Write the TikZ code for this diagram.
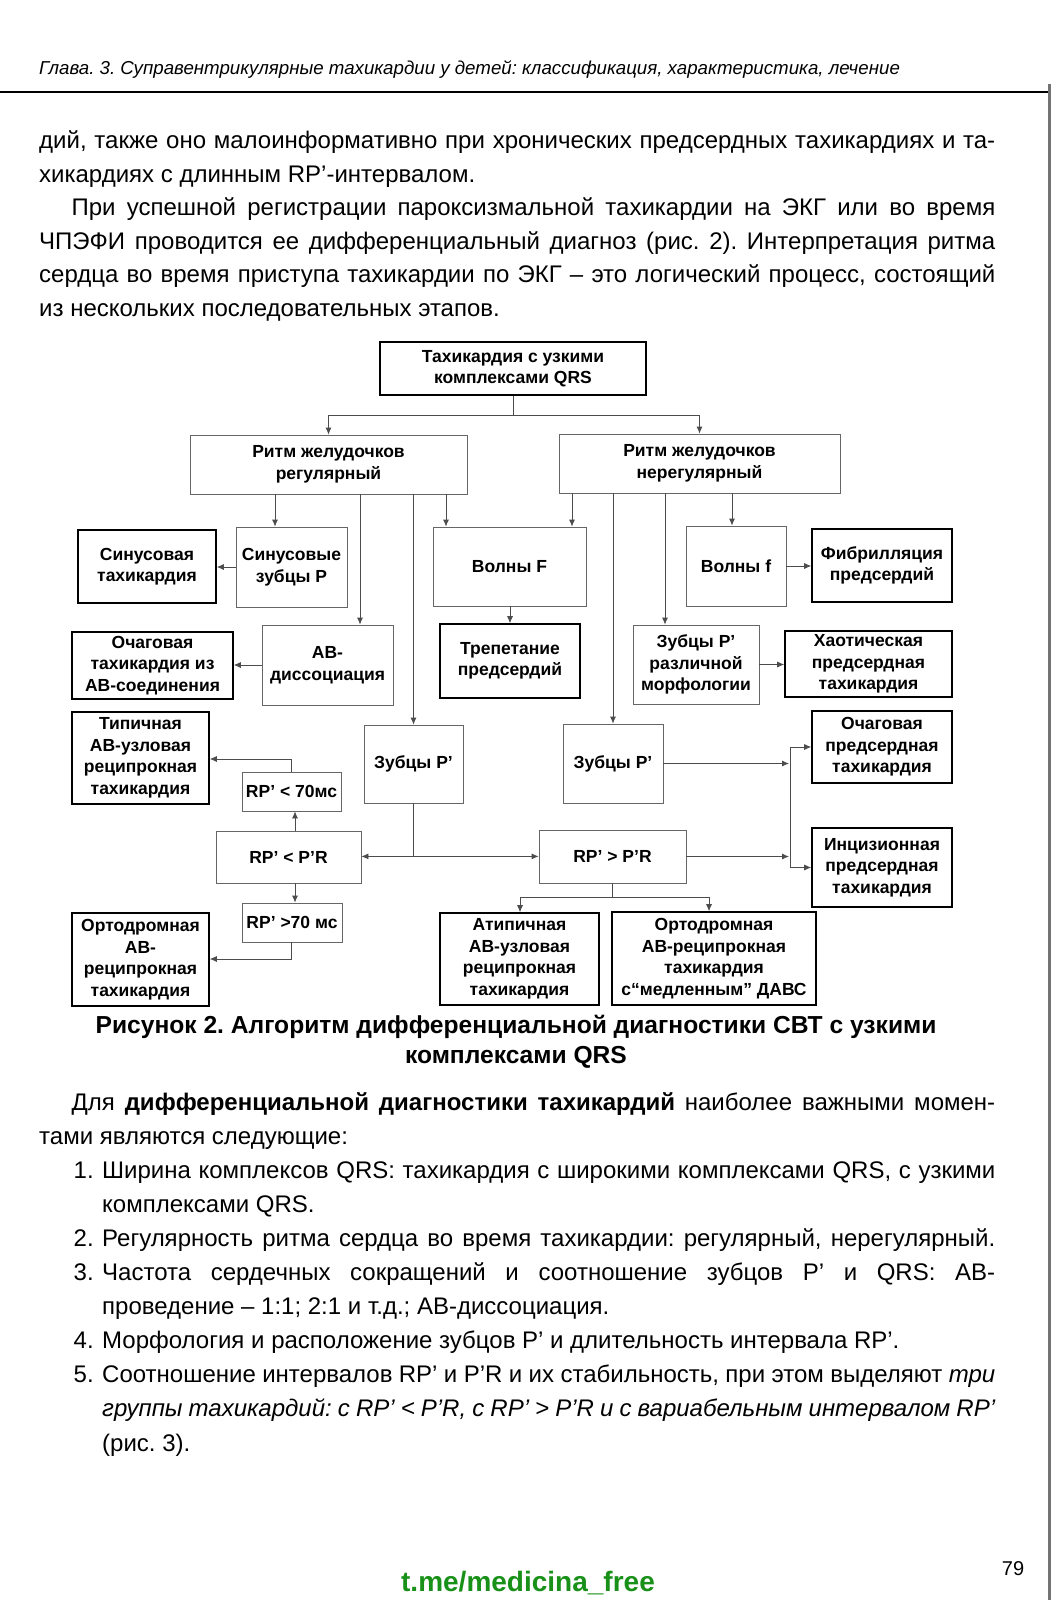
\documentclass[tikz,border=0pt]{standalone}
\usepackage{fontspec}
\setmainfont{Liberation Sans}
\usetikzlibrary{arrows.meta}
\definecolor{tgreen}{RGB}{25,145,25}
\frenchspacing

\begin{document}
\begin{tikzpicture}[x=1pt,y=-1pt,
  thinbox/.style={draw=black!60,line width=0.8pt,align=center,inner sep=0pt,
    font=\bfseries\fontsize{17.5}{21.5}\selectfont},
  boldbox/.style={thinbox,draw=black,line width=1.6pt},
  wh/.style 2 args={minimum width=#1pt,minimum height=#2pt},
  conn/.style={draw=black!70,line width=0.8pt},
  arr/.style={conn,-{Latex[length=7pt,width=6pt]}},
  bodytext/.style={anchor=base west,inner sep=0pt,font=\fontsize{24}{33}\selectfont},
  capt/.style={anchor=base,inner sep=0pt,font=\bfseries\fontsize{24.6}{29}\selectfont}]
\fill[white] (0,0) rectangle (1056,1600);
\useasboundingbox (0,0) rectangle (1056,1600);

% page head
\node[anchor=base west,inner sep=0pt,font=\itshape\fontsize{18.7}{24}\selectfont] (head) at (39,75)
  {Глава. 3. Суправентрикулярные тахикардии у детей: классификация, характеристика, лечение};
\draw[line width=2pt] (0,92) -- (1050,92);
\draw[black!55,line width=3pt] (1049,84) -- (1049,1600);

% text before the figure
\node[bodytext] (p1) at (39,149) {\makebox[956pt][s]{дий, также оно малоинформативно при хронических предсердных тахикардиях и та-}};
\node[bodytext] (p2) at (39,182.4) {хикардиях с длинным RP’-интервалом.};
\node[bodytext] (p3) at (71.4,215.8) {\makebox[923.6pt][s]{При успешной регистрации пароксизмальной тахикардии на ЭКГ или во время}};
\node[bodytext] (p4) at (39,249.2) {\makebox[956pt][s]{ЧПЭФИ проводится ее дифференциальный диагноз (рис. 2). Интерпретация ритма}};
\node[bodytext] (p5) at (39,282.6) {\makebox[956pt][s]{сердца во время приступа тахикардии по ЭКГ – это логический процесс, состоящий}};
\node[bodytext] (p6) at (39,316) {из нескольких последовательных этапов.};

% boxes
\node[boldbox,wh={266}{53}] (top) at (513,368.5) {Тахикардия с узкими\\комплексами QRS};
\node[thinbox,wh={277}{59}] (reg) at (328.5,464.5) {Ритм желудочков\\регулярный};
\node[thinbox,wh={281}{59}] (nereg) at (699.5,463.5) {Ритм желудочков\\нерегулярный};

\node[boldbox,wh={138}{73}] (sintach) at (147,566.5) {Синусовая\\тахикардия};
\node[thinbox,wh={111}{80}] (sinP) at (291.5,567) {Синусовые\\зубцы P};
\node[thinbox,wh={153}{79}] (volF) at (509.5,566.5) {Волны F};
\node[thinbox,wh={100}{80}] (volf) at (736,566) {Волны f};
\node[boldbox,wh={140}{73}] (fib) at (882,565.5) {Фибрилляция\\предсердий};

\node[boldbox,wh={161}{67}] (ochAV) at (152.5,665.5) {Очаговая\\тахикардия из\\АВ-соединения};
\node[thinbox,wh={131}{80}] (avdis) at (327.5,665) {АВ-\\диссоциация};
\node[boldbox,wh={140}{74}] (trep) at (510,661) {Трепетание\\предсердий};
\node[thinbox,wh={126}{79}] (Pmorph) at (696,664.5) {Зубцы P'\\различной\\морфологии};
\node[boldbox,wh={167}{66}] (chaos) at (868.5,664) {Хаотическая\\предсердная\\тахикардия};

\node[boldbox,wh={137}{92}] (typ) at (140.5,758) {Типичная\\АВ-узловая\\реципрокная\\тахикардия};
\node[thinbox,wh={99}{78}] (Pl) at (413.5,764) {Зубцы P'};
\node[thinbox,wh={100}{79}] (Pr) at (613,763.5) {Зубцы P'};
\node[boldbox,wh={140}{72}] (ochPr) at (882,747) {Очаговая\\предсердная\\тахикардия};
\node[thinbox,wh={99}{39}] (lt70) at (291.5,791.5) {RP' < 70мс};
\node[thinbox,wh={145}{52}] (shortRP) at (288.5,857) {RP' < P'R};
\node[thinbox,wh={147}{53}] (longRP) at (612.5,856.5) {RP' > P'R};
\node[boldbox,wh={140}{79}] (inc) at (882,867.5) {Инцизионная\\предсердная\\тахикардия};
\node[thinbox,wh={100}{39}] (gt70) at (292,922.5) {RP' >70 мс};
\node[boldbox,wh={137}{93}] (ortL) at (140.5,959.5) {Ортодромная\\АВ-\\реципрокная\\тахикардия};
\node[boldbox,wh={159}{92}] (atyp) at (519.5,959) {Атипичная\\АВ-узловая\\реципрокная\\тахикардия};
\node[boldbox,wh={204}{93}] (ortR) at (714,958.5) {Ортодромная\\АВ-реципрокная\\тахикардия\\с“медленным” ДАВС};

% connectors
\draw[conn] (top.south) -- ++(0,20) coordinate (topj);
\draw[arr] (topj) -| (reg.north);
\draw[arr] (topj) -| (nereg.north);

\draw[arr] (275,0 |- reg.south) -- (275,0 |- sinP.north);
\draw[arr] (360,0 |- reg.south) -- (360,0 |- avdis.north);
\draw[arr] (reg.south -| Pl.north) -- (Pl.north);
\draw[arr] (446,0 |- reg.south) -- (446,0 |- volF.north);
\draw[arr] (572,0 |- nereg.south) -- (572,0 |- volF.north);
\draw[arr] (nereg.south -| Pr.north) -- (Pr.north);
\draw[arr] (665,0 |- nereg.south) -- (665,0 |- Pmorph.north);
\draw[arr] (732,0 |- nereg.south) -- (732,0 |- volf.north);

\draw[arr] (sinP.west) -- (sinP.west -| sintach.east);
\draw[arr] (avdis.west) -- (avdis.west -| ochAV.east);
\draw[arr] (volF.south -| trep.north) -- (trep.north);
\draw[arr] (volf.east) -- (volf.east -| fib.west);
\draw[arr] (Pmorph.east) -- (Pmorph.east -| chaos.west);

\draw[conn] (Pl.south) -- ++(0,53) coordinate (plj);
\draw[arr] (plj) -- (plj -| shortRP.east);
\draw[arr] (plj) -- (plj -| longRP.west);
\draw[arr] (295,0 |- shortRP.north) -- (295,0 |- lt70.south);
\draw[arr] (295,0 |- shortRP.south) -- (295,0 |- gt70.north);
\draw[arr] (291,0 |- lt70.north) |- (typ.east |- 0,759);
\draw[arr] (291,0 |- gt70.south) |- (ortL.east |- 0,959);

\draw[arr] (Pr.east) -- (789,0 |- Pr.east);
\draw[arr] (longRP.east) -- (789,0 |- longRP.east);
\draw[conn] (790,0 |- ochPr.west) -- (790,0 |- inc.west);
\draw[arr] (790,0 |- ochPr.west) -- (ochPr.west);
\draw[arr] (790,0 |- inc.west) -- (inc.west);

\draw[conn] (longRP.south) -- ++(0,14) coordinate (lj);
\draw[arr] (lj) -| (520,0 |- atyp.north);
\draw[arr] (lj) -| (709,0 |- ortR.north);

% caption
\node[capt] (cap1) at (516,1033) {Рисунок 2. Алгоритм дифференциальной диагностики СВТ с узкими};
\node[capt] (cap2) at (516,1063) {комплексами QRS};

% text after the figure
\node[bodytext] (b1) at (71.4,1110) {\makebox[923.6pt][s]{Для \textbf{дифференциальной диагностики тахикардий} наиболее важными момен-}};
\node[bodytext] (b2) at (39,1144.1) {тами являются следующие:};
\node[bodytext] (n1) at (73.5,1178.2) {1.};
\node[bodytext] (i1a) at (102,1178.2) {\makebox[893pt][s]{Ширина комплексов QRS: тахикардия с широкими комплексами QRS, с узкими}};
\node[bodytext] (i1b) at (102,1212.3) {комплексами QRS.};
\node[bodytext] (n2) at (73.5,1246.4) {2.};
\node[bodytext] (i2) at (102,1246.4) {\makebox[893pt][s]{Регулярность ритма сердца во время тахикардии: регулярный, нерегулярный.}};
\node[bodytext] (n3) at (73.5,1280.5) {3.};
\node[bodytext] (i3a) at (102,1280.5) {\makebox[893pt][s]{Частота сердечных сокращений и соотношение зубцов P’ и QRS: АВ-}};
\node[bodytext] (i3b) at (102,1314.6) {проведение – 1:1; 2:1 и т.д.; АВ-диссоциация.};
\node[bodytext] (n4) at (73.5,1348.7) {4.};
\node[bodytext] (i4) at (102,1348.7) {Морфология и расположение зубцов P’ и длительность интервала RP’.};
\node[bodytext] (n5) at (73.5,1382.8) {5.};
\node[bodytext] (i5a) at (102,1382.8) {\makebox[893pt][s]{Соотношение интервалов RP’ и P’R и их стабильность, при этом выделяют \textit{три}}};
\node[bodytext] (i5b) at (102,1416.9) {\makebox[893pt][s]{\itshape группы тахикардий: с RP’ < P’R, с RP’ > P’R и с вариабельным интервалом RP’}};
\node[bodytext] (i5c) at (102,1451) {(рис. 3).};

% foot
\node[anchor=base,inner sep=0pt,text=tgreen,font=\bfseries\fontsize{28}{32}\selectfont] (tme) at (528,1591) {t.me/medicina\_free};
\node[anchor=base,inner sep=0pt,font=\fontsize{20}{24}\selectfont] (pageno) at (1013,1575) {79};
\end{tikzpicture}
\end{document}
